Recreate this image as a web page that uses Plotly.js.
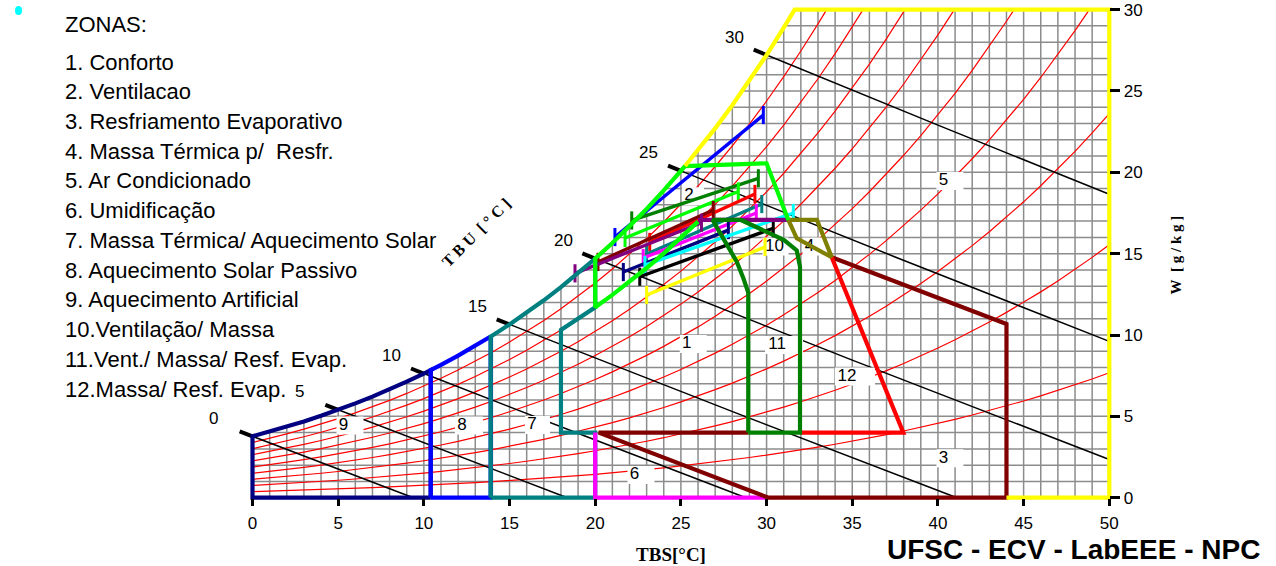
<!DOCTYPE html>
<html><head><meta charset="utf-8">
<script src="https://cdn.plot.ly/plotly-3.0.1.min.js"></script>
<style>html,body{margin:0;padding:0;background:#fff}#chart{width:1276px;height:566px}</style>
</head><body><div id="chart"></div>
<script>
// ---------------- DATA ----------------
const satTemps = [0,1,2,3,4,5,6,7,8,9,10,11,12,13,14,15,16,17,18,19,20,21,22,23,24,25,26,27,28,29,30,31,32,33,34,35,36,37,38,39,40,41,42,43,44,45,46,47,48,49,50];
const satPressure = [0.6113,0.6571,0.7060,0.7581,0.8136,0.8726,0.9354,1.0021,1.0730,1.1482,1.2282,1.3129,1.4028,1.4981,1.5989,1.7057,1.8188,1.9383,2.0647,2.1982,2.3392,2.4881,2.6452,2.8109,2.9856,3.1697,3.3637,3.5679,3.7828,4.0089,4.2467,4.4966,4.7592,5.0351,5.3247,5.6286,5.9475,6.2818,6.6324,6.9997,7.3844,7.7873,8.2090,8.6503,9.1118,9.5944,10.099,10.626,11.177,11.752,12.352];
const rhLevels = [10,20,30,40,50,60,70,80,90];
const wetBulbTemps = [0,5,10,15,20,25,30];
const wetBulbLabels = ['0','5','10','15','20','25','30'];
const xTickVals = [0,5,10,15,20,25,30,35,40,45,50];
const xTickText = ['0','5','10','15','20','25','30','35','40','45','50'];
const yTickVals = [0,5,10,15,20,25,30];
const yTickText = ['0','5','10','15','20','25','30'];

const legendLines = ['ZONAS:','1. Conforto','2. Ventilacao','3. Resfriamento Evaporativo','4. Massa Térmica p/  Resfr.','5. Ar Condicionado','6. Umidificação','7. Massa Térmica/ Aquecimento Solar','8. Aquecimento Solar Passivo','9. Aquecimento Artificial','10.Ventilação/ Massa','11.Vent./ Massa/ Resf. Evap.','12.Massa/ Resf. Evap.'];

// monthly climate lines (TBS min/max, W at those ends)
const monthTStart = [21.15,22.13,21.74,23.18,20.16,23.0,22.8,18.82,21.64,22.9,22.6,23.0];
const monthWStart = [16.02,17.04,15.96,15.72,14.49,14.98,14.73,13.79,13.87,14.3,13.58,12.46];
const monthTEnd   = [29.81,29.52,28.35,29.32,26.89,29.72,29.4,26.2,27.77,31.56,30.39,29.91];
const monthWEnd   = [23.52,19.63,18.82,18.67,17.68,18.05,17.5,16.9,16.45,17.5,16.56,15.41];

// zone boundaries (vertices; ['sat',t0,t1] follows saturation, ['rh',phi,t0,t1] follows an RH curve)
const zone9Path  = [[10.4,0],[0,0],['sat',0,10.4],[10.4,0]];
const zone8Path  = [[10.4,0],[13.9,0],['sat',13.9,10.4],[10.4,0]];
const zone7Path  = [[13.9,0],[20,0],[20,4],[18,4],['rh',0.8,18,20],['sat',20,13.9],[13.9,0]];
const zone6Path  = [[20,4],[20,0],[30.1,0]];
const zone3Path  = [[28.93,4],[20.2,4],[30.1,0],[44,0],[44,10.68],[33.8,14.78]];
const zone12Path = [[31.95,4],[37.98,4],[33.8,14.78]];
const zone10Path = [[26.0,17.07],[31.27,17.07]];
const zone11Path = [[28.93,4],[28.93,12.6],[28.64,13.5],[28.26,14.5],[27.47,15.94],[26.85,17.07],[28.5,17.07],[29.4,16.65],[31.0,15.85],[31.76,15.2],[31.95,14.2],[31.95,4],[28.93,4]];
const zone4Path  = [[31.27,17.07],[32.94,17.07],[33.8,14.78],[31.76,15.94],[31.27,17.07]];
const zone2Path  = [['rh',0.8,26.0,20],['sat',20,25.24],[30.0,20.55],[31.27,17.07]];
const zone5Path  = [['sat',25.24,'top'],[50,30],[50,0],[44,0]];

const zoneLabelText = ['1','2','3','4','5','6','7','8','9','10','11','12'];
const zoneLabelX = [25.72,25.71,40.7,32.68,40.7,22.67,16.63,12.63,5.69,30.52,31.02,35.16];
const zoneLabelY = [9.45,18.53,2.42,15.44,19.47,1.40,4.47,4.44,4.43,15.44,9.39,7.45];

// ---------------- STYLE / GEOMETRY ----------------
const monthColors = ['#0000ff','#008000','#00ff00','#ff0000','#800000','#008080','#ff00ff','#800080','#000080','#00ffff','#000000','#ffff00'];
const zoneLabelW = [27,22,27,20,27,27,25,28,27,26,38,40];
const W=1276,H=566;
const X0=252.5,KX=17.136,Y0=497.7,KY=16.27;
const ML=226,MR=160,MT=4,MB=60;
const xr=[(ML-X0)/KX,(W-MR-X0)/KX];
const yr=[(Y0-(H-MB))/KY,(Y0-MT)/KY];
const PW=W-ML-MR, PH=H-MT-MB;
const pxX=p=>(p-ML)/PW, pxY=p=>(H-MB-p)/PH;

// ---------------- PSYCHRO HELPERS ----------------
function psat(t){
  let i=Math.floor(t); if(i<0)i=0; if(i>satTemps.length-2)i=satTemps.length-2;
  const f=t-satTemps[i];
  return Math.exp(Math.log(satPressure[i])*(1-f)+Math.log(satPressure[i+1])*f);
}
function wAt(t,phi){const p=phi*psat(t);return 622*p/(101.325-p);}
function bisect(a,b,fn){let fa=fn(a);for(let k=0;k<60;k++){const m=(a+b)/2,fm=fn(m);if((fm>0)===(fa>0)){a=m;fa=fm;}else b=m;}return (a+b)/2;}
function tSat(w){ if(w<=wAt(0,1)) return 0; return bisect(0,50,t=>wAt(t,1)-w);}
function curvePts(phi,t0,t1){
  if(t1==='top') t1=bisect(t0,50,t=>wAt(t,phi)-30);
  const pts=[[t0,wAt(t0,phi)]];
  const dir=t1>t0?1:-1;
  let t=dir>0?Math.floor(t0)+1:Math.ceil(t0)-1;
  while(dir>0?t<t1:t>t1){pts.push([t,wAt(t,phi)]);t+=dir;}
  pts.push([t1,wAt(t1,phi)]);
  return pts;
}
function buildPath(def){
  const xs=[],ys=[];
  def.forEach(d=>{
    let pts;
    if(typeof d[0]==='string'){
      pts = d[0]==='sat'?curvePts(1,d[1],d[2]):curvePts(d[1],d[2],d[3]);
    } else pts=[d];
    pts.forEach(p=>{xs.push(p[0]);ys.push(p[1]);});
  });
  return {xs,ys};
}
function wWb(t,twb){const ws=wAt(twb,1)/1000;return 1000*((2501-2.326*twb)*ws-1.006*(t-twb))/(2501+1.86*t-4.186*twb);}

const traces=[];
// grid
const gx=[],gy=[];
for(let t=0;t<=50;t++){gx.push(t,t,null);gy.push(0,Math.min(wAt(t,1),30),null);}
for(let w=0;w<=30;w++){gx.push(tSat(w),50,null);gy.push(w,w,null);}
traces.push({x:gx,y:gy,mode:'lines',line:{color:'#8c8c8c',width:1.5},hoverinfo:'skip'});

// RH curves
rhLevels.forEach(rh=>{
  const phi=rh/100,xs=[],ys=[];
  for(let i=0;i<satTemps.length;i++){
    const t=satTemps[i],w=wAt(t,phi);
    if(w>30){const tc=bisect(t-1,t,tt=>wAt(tt,phi)-30);xs.push(tc);ys.push(30);break;}
    xs.push(t);ys.push(w);
  }
  traces.push({x:xs,y:ys,mode:'lines',line:{color:'#ff0000',width:1.2},hoverinfo:'skip'});
});

// wet bulb lines
const ann=[];
wetBulbTemps.forEach((twb,k)=>{
  let tEnd=bisect(twb,90,t=>wWb(t,twb));
  if(tEnd>50) tEnd=50;
  const tm=(twb+tEnd)/2;
  traces.push({x:[twb,tm,tEnd],y:[wWb(twb,twb),wWb(tm,twb),wWb(tEnd,twb)],mode:'lines',line:{color:'#000',width:1.5},hoverinfo:'skip'});
  traces.push({x:[twb-0.75,twb],y:[wWb(twb-0.75,twb),wWb(twb,twb)],mode:'lines',line:{color:'#000',width:4},hoverinfo:'skip'});
  ann.push({x:twb,y:wWb(twb,twb),xref:'x',yref:'y',text:wetBulbLabels[k],showarrow:false,xanchor:'center',yanchor:'middle',
    xshift:wetBulbLabels[k].length>1?-32:-39,yshift:18,font:{family:'Liberation Sans, Arial',size:17,color:'#000'}});
});

// label boxes
const bx=[],by=[],tx=[],ty=[];
zoneLabelText.forEach((s,i)=>{
  const hw=zoneLabelW[i]/KX/2, hh=9/KY;
  const cx=zoneLabelX[i],cy=zoneLabelY[i];
  bx.push(cx-hw,cx+hw,cx+hw,cx-hw,cx-hw,null);
  by.push(cy-hh,cy-hh,cy+hh,cy+hh,cy-hh,null);
  tx.push(cx-hw+(2+5*s.length)/KX); ty.push(cy);
});
traces.push({x:bx,y:by,mode:'lines',fill:'toself',fillcolor:'#ffffff',line:{width:0,color:'#ffffff'},hoverinfo:'skip'});
traces.push({x:tx,y:ty,mode:'text',text:zoneLabelText,textposition:'middle center',textfont:{family:'Liberation Sans, Arial',size:17,color:'#000'},hoverinfo:'skip'});

// month lines
monthColors.forEach((c,i)=>{
  traces.push({x:[monthTStart[i],monthTEnd[i]],y:[monthWStart[i],monthWEnd[i]],mode:'lines+markers',
    line:{color:c,width:3.4},marker:{symbol:'line-ns-open',size:13,color:c,line:{color:c,width:3}},hoverinfo:'skip'});
});

// zones
const zoneDefs=[[zone9Path,'#000080'],[zone8Path,'#0000ff'],[zone7Path,'#008080'],[zone6Path,'#ff00ff'],[zone3Path,'#800000'],
  [zone12Path,'#ff0000'],[zone10Path,'#800080'],[zone11Path,'#008000'],[zone4Path,'#808000'],[zone2Path,'#00ff00'],[zone5Path,'#ffff00']];
zoneDefs.forEach(z=>{
  const p=buildPath(z[0]);
  traces.push({x:p.xs,y:p.ys,mode:'lines',line:{color:z[1],width:4.2},hoverinfo:'skip'});
});

// legend text
legendLines.forEach((s,i)=>{
  const py = i===0?25:62+(i-1)*29.73;
  ann.push({x:pxX(63),y:pxY(py),xref:'paper',yref:'paper',xanchor:'left',yanchor:'middle',text:s,showarrow:false,
    font:{family:'Liberation Sans, Arial',size:22,color:'#000'}});
});
ann.push({x:pxX(476),y:pxY(232),xref:'paper',yref:'paper',xanchor:'center',yanchor:'middle',
  text:'<b>T&nbsp;B&nbsp;U&nbsp;&nbsp;[&nbsp;°&nbsp;C&nbsp;]</b>',textangle:-45,showarrow:false,
  font:{family:'Liberation Serif, Times New Roman',size:16,color:'#000'}});
ann.push({x:pxX(885),y:pxY(549),xref:'paper',yref:'paper',xanchor:'left',yanchor:'middle',text:'<b>UFSC - ECV - LabEEE - NPC</b>',showarrow:false,
  font:{family:'Liberation Sans, Arial',size:28,color:'#000'}});

const layout={
  width:W,height:H,margin:{l:ML,r:MR,t:MT,b:MB},paper_bgcolor:'#fff',plot_bgcolor:'#fff',showlegend:false,hovermode:false,
  xaxis:{range:xr,showgrid:false,zeroline:false,showline:false,tickvals:xTickVals,ticktext:xTickText,ticks:'outside',ticklen:7,tickwidth:3,tickcolor:'#000',
    ticklabelstandoff:3,tickfont:{family:'Liberation Sans, Arial',size:17,color:'#000'},anchor:'free',position:(0-yr[0])/(yr[1]-yr[0]),
    title:{text:'<b>TBS[°C]</b>',font:{family:'Liberation Serif, Times New Roman',size:19,color:'#000'},standoff:15}},
  yaxis:{range:yr,showgrid:false,zeroline:false,showline:false,side:'right',tickvals:yTickVals,ticktext:yTickText,ticks:'outside',ticklen:10,tickwidth:3,tickcolor:'#000',
    tickfont:{family:'Liberation Sans, Arial',size:17,color:'#000'},anchor:'free',position:(50-xr[0])/(xr[1]-xr[0]),
    title:{text:'<b>W&nbsp;&nbsp;[&nbsp;g&nbsp;/&nbsp;k&nbsp;g&nbsp;]</b>',font:{family:'Liberation Serif, Times New Roman',size:15,color:'#000'},standoff:28}},
  annotations:ann,
  shapes:[{type:'circle',xref:'paper',yref:'paper',x0:pxX(15),x1:pxX(22),y0:pxY(15),y1:pxY(6),fillcolor:'#00ffff',line:{width:0}}]
};
Plotly.newPlot('chart',traces,layout,{displayModeBar:false,staticPlot:true});
</script></body></html>
